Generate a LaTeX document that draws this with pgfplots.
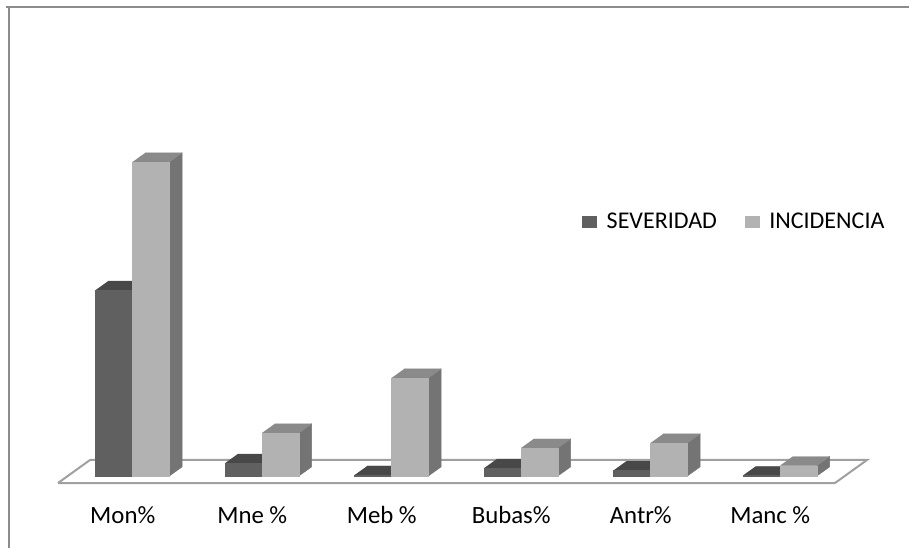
\documentclass[border=0pt]{standalone}
\usepackage{pgfplots}
\pgfplotsset{compat=1.18}
\usepackage{pgfplotstable}
\usepackage{fontspec}
\setmainfont{Carlito}
\definecolor{sevfront}{RGB}{96,96,96}
\definecolor{sevtop}{RGB}{72,72,72}
\definecolor{sevside}{RGB}{82,82,82}
\definecolor{incfront}{RGB}{178,178,178}
\definecolor{inctop}{RGB}{138,138,138}
\definecolor{incside}{RGB}{116,116,116}
\definecolor{floorcol}{RGB}{160,160,160}
\definecolor{bordercol}{RGB}{140,140,140}
\pgfplotstableread{
idx sev inc
0 59.2 100
1 4.1 13.7
2 0.3 31.2
3 2.5 8.9
4 1.8 10.5
5 0.2 3.3
}\datatable
\begin{document}
\begin{tikzpicture}
\path[use as bounding box] (0,0) rectangle (454.5bp,274bp);
\draw[bordercol, line width=1.2bp] (3bp,270.5bp) -- (454.5bp,270.5bp);
\draw[bordercol, line width=1.2bp] (4.5bp,270.5bp) -- (4.5bp,0bp);
\begin{axis}[
  x={(64.75bp,0bp)}, y={(16bp,11.5bp)}, z={(0bp,1.57bp)},
  xmin=0, xmax=6, ymin=0, ymax=1, zmin=0, zmax=100,
  anchor=origin, at={(29bp,32.5bp)},
  clip=false,
  hide y axis, hide z axis,
  axis line style={draw=none},
  major tick length=0pt,
  xtick={0.5,1.5,2.5,3.5,4.5,5.5},
  xticklabels={Mon\%,Mne \%,Meb \%,Bubas\%,Antr\%,Manc \%},
  xticklabel style={font=\fontsize{12.4bp}{14bp}\selectfont, anchor=base, yshift=-20bp},
  legend style={draw=none, fill=none, at={(axis cs:4.046,0,83.1)}, anchor=west,
    inner sep=0pt, font=\fontsize{12bp}{14bp}\selectfont,
    /tikz/every even column/.append style={column sep=12bp}},
  legend columns=2,
  legend image code/.code={\fill[draw=none] (0bp,-3.2bp) rectangle (7.5bp,3.2bp); \path (10bp,0bp);},
]
\addplot3[forget plot, fill=white, draw=floorcol, line width=1bp] coordinates {(0,0,0) (6,0,0) (6,1,0) (0,1,0) (0,0,0)};
\pgfplotsforeachungrouped \i in {0,...,5}{%
  \pgfplotstablegetelem{\i}{sev}\of\datatable \let\hs\pgfplotsretval
  \pgfplotstablegetelem{\i}{inc}\of\datatable \let\hi\pgfplotsretval
  \pgfmathsetmacro\xa{\i+0.215}%
  \pgfmathsetmacro\xb{\i+0.5}%
  \pgfmathsetmacro\xc{\i+0.785}%
  \edef\temp{%
    \noexpand\addplot3[forget plot, fill=sevside, draw=sevside, line width=0.2pt] coordinates {(\xb,0.3,0) (\xb,0.7,0) (\xb,0.7,\hs) (\xb,0.3,\hs)};
    \noexpand\addplot3[forget plot, fill=sevtop, draw=sevtop, line width=0.2pt] coordinates {(\xa,0.3,\hs) (\xb,0.3,\hs) (\xb,0.7,\hs) (\xa,0.7,\hs)};
    \noexpand\addplot3[forget plot, fill=sevfront, draw=sevfront, line width=0.2pt] coordinates {(\xa,0.3,0) (\xb,0.3,0) (\xb,0.3,\hs) (\xa,0.3,\hs)};
    \noexpand\addplot3[forget plot, fill=incside, draw=incside, line width=0.2pt] coordinates {(\xc,0.3,0) (\xc,0.7,0) (\xc,0.7,\hi) (\xc,0.3,\hi)};
    \noexpand\addplot3[forget plot, fill=inctop, draw=inctop, line width=0.2pt] coordinates {(\xb,0.3,\hi) (\xc,0.3,\hi) (\xc,0.7,\hi) (\xb,0.7,\hi)};
    \noexpand\addplot3[forget plot, fill=incfront, draw=incfront, line width=0.2pt] coordinates {(\xb,0.3,0) (\xc,0.3,0) (\xc,0.3,\hi) (\xb,0.3,\hi)};
  }\temp
}
\addlegendimage{fill=sevfront}
\addlegendentry{SEVERIDAD}
\addlegendimage{fill=incfront}
\addlegendentry{INCIDENCIA}
\end{axis}
\end{tikzpicture}
\end{document}
